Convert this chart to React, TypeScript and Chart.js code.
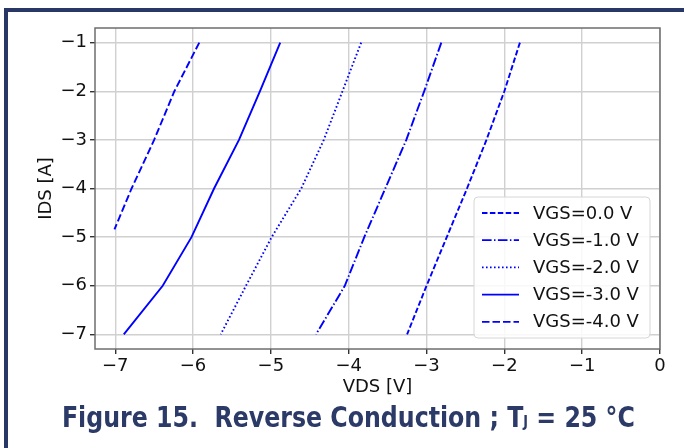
import React, { useEffect, useRef } from "react";
import { Chart, registerables } from "chart.js";

Chart.register(...registerables);

// IDS levels [A] shared by most curves
const IDS_LEVELS = [-1, -2, -3, -4, -5, -6, -7];
// VDS [V] for each VGS curve at those IDS levels
const VDS_VGS_0 = [-1.8, -2.0, -2.23, -2.48, -2.74, -3.0, -3.25];
const VDS_VGS_M1 = [-2.81, -3.03, -3.26, -3.53, -3.8, -4.05, -4.42];
const VDS_VGS_M2 = [-3.84, -4.08, -4.32, -4.61, -4.99, -5.32, -5.645];
const VDS_VGS_M3 = [-4.88, -5.14, -5.41, -5.73, -6.02, -6.39, -6.89];
// VGS=-4.0 V curve stops at the VDS=-7 V limit
const IDS_VGS_M4 = [-1, -2, -3, -4, -4.84];
const VDS_VGS_M4 = [-5.92, -6.24, -6.5, -6.79, -7.01];

const SERIES_LABELS = ["VGS=0.0 V", "VGS=-1.0 V", "VGS=-2.0 V", "VGS=-3.0 V", "VGS=-4.0 V"];
const X_TICKS = [-7, -6, -5, -4, -3, -2, -1, 0];
const Y_TICKS = [-7, -6, -5, -4, -3, -2, -1];

const BLUE = "#0000ff";
const DASHES: number[][] = [
  [5.5, 2.4],
  [9.6, 2.4, 1.5, 2.4],
  [1.6, 2.4],
  [],
  [7.5, 3],
];

const FONT = "'DejaVu Sans', sans-serif";
const minusify = (v: number) => String(v).replace("-", "\u2212");

const frameAndLegend = {
  id: "frameAndLegend",
  afterDraw(chart: any) {
    const ctx = chart.ctx as CanvasRenderingContext2D;
    const a = chart.chartArea;
    ctx.save();
    // axes frame
    ctx.strokeStyle = "#6e6e6e";
    ctx.lineWidth = 1.5;
    ctx.setLineDash([]);
    ctx.strokeRect(a.left, a.top, a.right - a.left, a.bottom - a.top);

    // legend box
    const w = 176;
    const h = 141;
    const x0 = a.right - 10 - w;
    const y0 = a.bottom - 11 - h;
    ctx.globalAlpha = 0.85;
    ctx.fillStyle = "#ffffff";
    ctx.beginPath();
    (ctx as any).roundRect(x0, y0, w, h, 4);
    ctx.fill();
    ctx.globalAlpha = 1;
    ctx.strokeStyle = "#d6d6d6";
    ctx.lineWidth = 1;
    ctx.stroke();

    chart.data.datasets.forEach((ds: any, i: number) => {
      const yc = y0 + 16 + i * 27.2;
      ctx.strokeStyle = ds.borderColor;
      ctx.lineWidth = 1.8;
      ctx.setLineDash(ds.borderDash || []);
      ctx.beginPath();
      ctx.moveTo(x0 + 8, yc);
      ctx.lineTo(x0 + 45, yc);
      ctx.stroke();
      ctx.setLineDash([]);
      ctx.fillStyle = "#111";
      ctx.font = `18px ${FONT}`;
      ctx.textBaseline = "middle";
      ctx.textAlign = "left";
      ctx.fillText(ds.label, x0 + 59, yc + 1);
    });
    ctx.restore();
  },
};

function ChartCanvas() {
  const ref = useRef<HTMLCanvasElement | null>(null);
  useEffect(() => {
    if (!ref.current) return;
    const xs = [VDS_VGS_0, VDS_VGS_M1, VDS_VGS_M2, VDS_VGS_M3, VDS_VGS_M4];
    const ys = [IDS_LEVELS, IDS_LEVELS, IDS_LEVELS, IDS_LEVELS, IDS_VGS_M4];
    const datasets = SERIES_LABELS.map((label, i) => ({
      label,
      data: xs[i].map((x, j) => ({ x, y: ys[i][j] })),
      showLine: true,
      borderColor: BLUE,
      borderWidth: 1.9,
      borderDash: DASHES[i],
      pointRadius: 0,
      fill: false,
      tension: 0,
    }));
    const tickFont = { family: FONT, size: 18 };
    const chart = new Chart(ref.current, {
      type: "scatter",
      data: { datasets },
      options: {
        animation: false,
        responsive: false,
        devicePixelRatio: 1,
        layout: { padding: { top: 28, right: 24, left: 0, bottom: 0 } },
        plugins: { legend: { display: false }, tooltip: { enabled: false } },
        scales: {
          x: {
            type: "linear",
            min: -7.26,
            max: 0,
            afterBuildTicks: (s: any) => {
              s.ticks = X_TICKS.map((v) => ({ value: v }));
            },
            afterFit: (s: any) => {
              s.height = 99;
            },
            ticks: {
              autoSkip: false,
              maxRotation: 0,
              color: "#111",
              font: tickFont,
              padding: 2,
              callback: (v: any) => minusify(Number(v)),
            },
            grid: { color: "#d0d0d0", lineWidth: 1.4, tickColor: "#333", tickLength: 5 },
            border: { display: false },
            title: {
              display: true,
              text: "VDS [V]",
              color: "#111",
              font: tickFont,
              padding: { top: 0, bottom: 50 },
            },
          },
          y: {
            type: "linear",
            min: -7.3,
            max: -0.7,
            afterBuildTicks: (s: any) => {
              s.ticks = Y_TICKS.map((v) => ({ value: v }));
            },
            afterFit: (s: any) => {
              s.width = 95;
            },
            ticks: {
              autoSkip: false,
              color: "#111",
              font: tickFont,
              padding: 3,
              callback: (v: any) => minusify(Number(v)),
            },
            grid: { color: "#d0d0d0", lineWidth: 1.4, tickColor: "#333", tickLength: 5 },
            border: { display: false },
            title: {
              display: true,
              text: "IDS [A]",
              color: "#111",
              font: tickFont,
              padding: { top: 36, bottom: 0 },
            },
          },
        },
      },
      plugins: [frameAndLegend],
    } as any);
    return () => chart.destroy();
  }, []);
  return <canvas ref={ref} width={684} height={448} style={{ position: "absolute", left: 0, top: 0 }} />;
}

export default function App() {
  return (
    <div
      style={{
        position: "fixed",
        left: 0,
        top: 0,
        width: 684,
        height: 448,
        background: "#ffffff",
        overflow: "hidden",
      }}
    >
      <div
        style={{
          position: "absolute",
          left: 4,
          top: 8,
          width: 700,
          height: 460,
          borderTop: "4px solid #283766",
          borderLeft: "4px solid #283766",
        }}
      />
      <ChartCanvas />
      <div
        style={{
          position: "absolute",
          left: 6,
          top: 400,
          width: 684,
          textAlign: "center",
          fontFamily: "'Liberation Sans Narrow', 'DejaVu Sans Condensed', sans-serif",
          fontWeight: 700,
          fontSize: 28,
          lineHeight: "36px",
          color: "#2b3a67",
          whiteSpace: "pre",
          transform: "scaleX(0.94)",
          transformOrigin: "348px 50%",
        }}
      >
        {"Figure 15.  Reverse Conduction ; T"}
        <span style={{ fontSize: 15 }}>J</span>
        {" = 25 °C"}
      </div>
    </div>
  );
}
